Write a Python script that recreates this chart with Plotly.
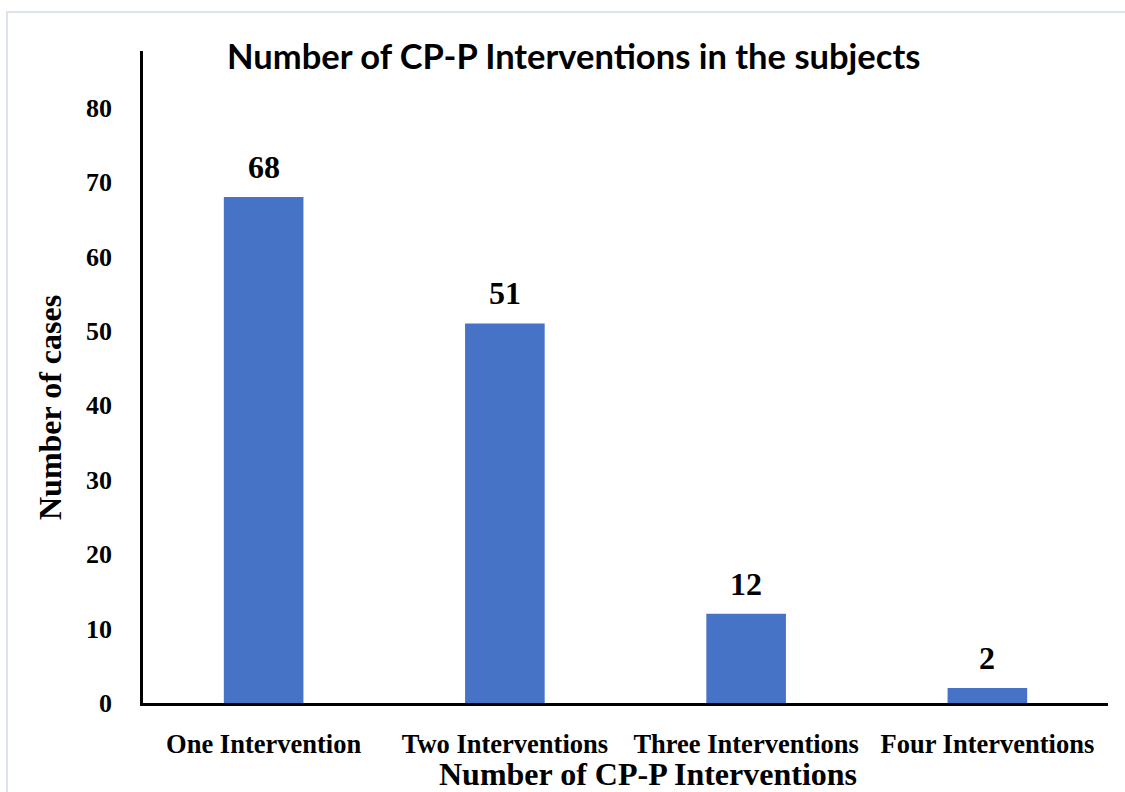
import plotly.graph_objects as go

categories = ["One Intervention", "Two Interventions", "Three Interventions", "Four Interventions"]
cases = [68, 51, 12, 2]
y_ticks = [0, 10, 20, 30, 40, 50, 60, 70, 80]

SERIF = "Liberation Serif, Times New Roman, serif"

fig = go.Figure()
fig.add_trace(go.Bar(
    x=categories, y=cases,
    width=0.33,
    marker=dict(color="#4673C6", line=dict(width=0)),
    hoverinfo="x+y",
))

for c, v in zip(categories, cases):
    fig.add_annotation(x=c, y=v, text=f"<b>{v}</b>", showarrow=False,
                       yanchor="bottom", yshift=10,
                       font=dict(family=SERIF, size=32, color="black", weight="bold"))

fig.update_layout(
    width=1125, height=792,
    paper_bgcolor="white", plot_bgcolor="white",
    margin=dict(l=143, r=17, t=51, b=89, autoexpand=False),
    showlegend=False,
    title=dict(text="<b>Number of CP-P Interventions in the subjects</b>",
               x=0.51, xanchor="center", y=1 - 57 / 792, yanchor="middle",
               font=dict(family="Lato, Open Sans, sans-serif", size=34.5, color="black")),
    xaxis=dict(
        type="category", range=[-0.5, 3.5], automargin=False,
        showline=True, linecolor="black", linewidth=2.5,
        showgrid=False, zeroline=False, ticks="",
        tickfont=dict(family=SERIF, size=26.5, color="black", weight="bold"),
        ticklabelstandoff=15,
    ),
    yaxis=dict(
        range=[0, 87.6], tickvals=y_ticks, automargin=False,
        showline=True, linecolor="black", linewidth=2.5,
        showgrid=False, zeroline=False, ticks="",
        tickfont=dict(family=SERIF, size=26, color="black", weight="bold"),
        ticklabelstandoff=23,
    ),
)

fig.add_annotation(xref="paper", yref="paper", x=(648 - 143) / 965, y=-(774 - 703) / 652,
                   text="<b>Number of CP-P Interventions</b>", showarrow=False,
                   xanchor="center", yanchor="middle",
                   font=dict(family=SERIF, size=32, color="black", weight="bold"))
fig.add_annotation(xref="paper", yref="paper", x=-(143 - 50) / 965, y=(703 - 408) / 652,
                   text="<b>Number of cases</b>", showarrow=False, textangle=-90,
                   xanchor="center", yanchor="middle",
                   font=dict(family=SERIF, size=32, color="black", weight="bold"))

# light outer frame
fig.add_shape(type="rect", xref="paper", yref="paper",
              x0=-(143 - 7) / 965, x1=1 + 30 / 965,
              y0=-100 / 652, y1=1 + (51 - 12) / 652,
              line=dict(color="#DDE3EA", width=2), layer="below")

fig.write_html("out.html", config={"displayModeBar": False},
               post_script="document.body.style.margin='0px';")
